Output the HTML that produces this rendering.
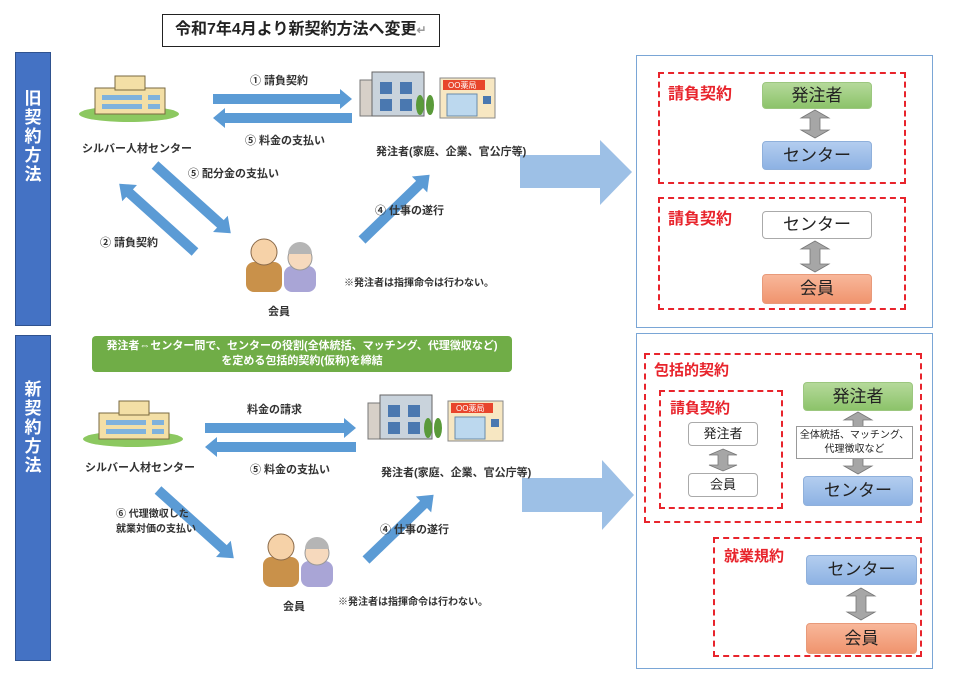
<!DOCTYPE html>
<html><head><meta charset="utf-8">
<style>
*{margin:0;padding:0;box-sizing:border-box}
body{width:960px;height:680px;background:#fff;position:relative;overflow:hidden;font-family:"Liberation Sans","Noto Sans CJK JP",sans-serif;color:#222}
.a{position:absolute;white-space:nowrap}
.t{font-size:11px;font-weight:bold;color:#333}
.bar{position:absolute;background:#4472c4;border:1px solid #2f528f;color:#fff;font-weight:bold;font-size:17px;line-height:19px;text-align:center;padding-top:36px}
.panel{position:absolute;border:1.5px solid #7aa6d6}
.red{position:absolute;border:2px dashed #e8242c}
.rl{position:absolute;color:#e8242c;font-weight:bold;font-size:16px;white-space:nowrap}
.box{position:absolute;border-radius:4px;text-align:center;font-size:17px;color:#222}
.g{background:linear-gradient(#b5d99a,#8cc36a);border:1px solid #9cc77f}
.b{background:linear-gradient(#b3cdef,#8db2e3);border:1px solid #8fb0db}
.o{background:linear-gradient(#f8b79a,#f0946e);border:1px solid #e89a7a}
.w{background:#fff;border:1px solid #aaa}
</style></head><body>
<div class="a" style="left:162px;top:14px;width:278px;height:33px;border:1.5px solid #222;font-size:16px;font-weight:bold;line-height:30px;padding-left:12px">令和7年4月より新契約方法へ変更<span style="color:#999;font-size:12px">↵</span></div>

<div class="bar" style="left:15px;top:52px;width:36px;height:274px">旧<br>契<br>約<br>方<br>法</div>
<div class="bar" style="left:15px;top:335px;width:36px;height:326px;padding-top:44px">新<br>契<br>約<br>方<br>法</div>

<svg class="a" style="left:0;top:0" width="960" height="680">
<g fill="#5b9bd5">
<polygon points="213,94 340,94 340,89 352,99 340,109 340,104 213,104"/>
<polygon points="352,113 225,113 225,108 213,118 225,128 225,123 352,123"/>
<polygon points="205,423 344,423 344,418 356,428 344,438 344,433 205,433"/>
<polygon points="356,442 217,442 217,437 205,447 217,457 217,452 356,452"/>
<g transform="translate(155,165) rotate(42)"><polygon points="0,-5 88,-5 88,-11 102,0 88,11 88,5 0,5"/></g>
<g transform="translate(195,252) rotate(-138)"><polygon points="0,-5 88,-5 88,-11 102,0 88,11 88,5 0,5"/></g>
<g transform="translate(362,240) rotate(-44)"><polygon points="0,-5 80,-5 80,-11 94,0 80,11 80,5 0,5"/></g>
<g transform="translate(158,490) rotate(42)"><polygon points="0,-5 88,-5 88,-11 102,0 88,11 88,5 0,5"/></g>
<g transform="translate(366,560) rotate(-44)"><polygon points="0,-5 80,-5 80,-11 94,0 80,11 80,5 0,5"/></g>
</g>
<g fill="#9dc0e6">
<polygon points="520,155 600,155 600,140 632,172 600,205 600,188 520,188"/>
<polygon points="522,478 602,478 602,460 634,495 602,530 602,512 522,512"/>
</g>
<g id="cen">
<ellipse cx="129" cy="114" rx="50" ry="8" fill="#8cc860"/>
<rect x="95" y="88" width="70" height="26" fill="#f3dfa6" stroke="#7a6a40"/>
<rect x="115" y="76" width="30" height="14" fill="#f3dfa6" stroke="#7a6a40"/>
<rect x="102" y="95" width="40" height="5" fill="#7fb2dd"/><rect x="102" y="104" width="40" height="5" fill="#7fb2dd"/>
<rect x="148" y="95" width="12" height="5" fill="#7fb2dd"/><rect x="148" y="104" width="12" height="5" fill="#7fb2dd"/>
</g>
<use href="#cen" x="4" y="325"/>
<g id="ord">
<rect x="360" y="80" width="14" height="36" fill="#d7d0c8" stroke="#777"/>
<rect x="372" y="72" width="52" height="44" fill="#c9d3dc" stroke="#666"/>
<rect x="380" y="82" width="12" height="12" fill="#4a78b0"/><rect x="400" y="82" width="12" height="12" fill="#4a78b0"/>
<rect x="380" y="99" width="12" height="12" fill="#4a78b0"/><rect x="400" y="99" width="12" height="12" fill="#4a78b0"/>
<ellipse cx="420" cy="105" rx="4" ry="10" fill="#5a9a3a"/><ellipse cx="430" cy="105" rx="4" ry="10" fill="#5a9a3a"/>
<rect x="440" y="78" width="55" height="40" fill="#f7e7c2" stroke="#888"/>
<rect x="443" y="80" width="42" height="10" fill="#e8452c"/>
<text x="448" y="88" font-size="8" fill="#fff">OO薬局</text>
<rect x="447" y="94" width="30" height="22" fill="#bcd8ee" stroke="#6a8bab"/>
<rect x="483" y="96" width="8" height="8" fill="#4a78b0"/>
</g>
<use href="#ord" x="8" y="323"/>
<g id="mem">
<rect x="246" y="262" width="36" height="30" rx="8" fill="#c9914a"/>
<circle cx="264" cy="252" r="13" fill="#f6d2a8" stroke="#8a6a4a"/>
<rect x="284" y="266" width="32" height="26" rx="8" fill="#a9a5d6"/>
<circle cx="300" cy="258" r="12" fill="#f6d9bd" stroke="#999"/>
<path d="M288,254 a12,12 0 0 1 24,0" fill="#b5b5b5"/>
</g>
<use href="#mem" x="17" y="295"/>
</svg>

<div class="a t" style="left:250px;top:72px">① 請負契約</div>
<div class="a t" style="left:245px;top:132px">⑤ 料金の支払い</div>
<div class="a t" style="left:82px;top:140px">シルバー人材センター</div>
<div class="a t" style="left:376px;top:143px">発注者(家庭、企業、官公庁等)</div>
<div class="a t" style="left:188px;top:165px">⑤ 配分金の支払い</div>
<div class="a t" style="left:100px;top:234px">② 請負契約</div>
<div class="a t" style="left:375px;top:202px">④ 仕事の遂行</div>
<div class="a t" style="left:344px;top:274px;font-size:10px">※発注者は指揮命令は行わない。</div>
<div class="a t" style="left:268px;top:303px">会員</div>

<div class="a" style="left:92px;top:336px;width:420px;height:36px;background:#70ad47;border-radius:4px;color:#fff;font-size:11px;font-weight:bold;text-align:center;line-height:15px;padding-top:3px">発注者⇔センター間で、センターの役割(全体統括、マッチング、代理徴収など)<br>を定める包括的契約(仮称)を締結</div>
<div class="a t" style="left:247px;top:401px">料金の請求</div>
<div class="a t" style="left:250px;top:461px">⑤ 料金の支払い</div>
<div class="a t" style="left:85px;top:459px">シルバー人材センター</div>
<div class="a t" style="left:381px;top:464px">発注者(家庭、企業、官公庁等)</div>
<div class="a t" style="left:116px;top:507px;line-height:15px;font-size:10px">⑥ 代理徴収した<br>就業対価の支払い</div>
<div class="a t" style="left:380px;top:521px">④ 仕事の遂行</div>
<div class="a t" style="left:338px;top:593px;font-size:10px">※発注者は指揮命令は行わない。</div>
<div class="a t" style="left:283px;top:598px">会員</div>

<div class="panel" style="left:636px;top:55px;width:297px;height:273px"></div>
<div class="red" style="left:658px;top:72px;width:248px;height:112px"></div>
<div class="rl" style="left:668px;top:80px">請負契約</div>
<div class="box g" style="left:762px;top:82px;width:110px;height:27px;line-height:25px">発注者</div>
<div class="box b" style="left:762px;top:141px;width:110px;height:29px;line-height:27px">センター</div>
<div class="red" style="left:658px;top:197px;width:248px;height:113px"></div>
<div class="rl" style="left:668px;top:205px">請負契約</div>
<div class="box w" style="left:762px;top:211px;width:110px;height:28px;line-height:26px">センター</div>
<div class="box o" style="left:762px;top:274px;width:110px;height:30px;line-height:28px">会員</div>

<div class="panel" style="left:636px;top:333px;width:297px;height:336px"></div>
<div class="red" style="left:644px;top:353px;width:278px;height:170px"></div>
<div class="rl" style="left:654px;top:359px;font-size:15px">包括的契約</div>
<div class="red" style="left:659px;top:390px;width:124px;height:119px"></div>
<div class="rl" style="left:670px;top:397px;font-size:15px">請負契約</div>
<div class="box w" style="left:688px;top:422px;width:70px;height:24px;line-height:22px;font-size:13px">発注者</div>
<div class="box w" style="left:688px;top:473px;width:70px;height:24px;line-height:22px;font-size:13px">会員</div>
<div class="box g" style="left:803px;top:382px;width:110px;height:29px;line-height:27px">発注者</div>
<div class="box b" style="left:803px;top:476px;width:110px;height:30px;line-height:28px">センター</div>
<div class="red" style="left:713px;top:537px;width:209px;height:120px"></div>
<div class="rl" style="left:724px;top:545px;font-size:15px">就業規約</div>
<div class="box b" style="left:806px;top:555px;width:111px;height:30px;line-height:28px">センター</div>
<div class="box o" style="left:806px;top:623px;width:111px;height:31px;line-height:29px">会員</div>

<svg class="a" style="left:0;top:0" width="960" height="680">
<g fill="#a6a6a6" stroke="#777" stroke-width="0.8">
<polygon points="815,110 829,118 820,118 820,130 829,130 815,138 801,130 810,130 810,118 801,118"/>
<polygon points="815,241 829,249 820,249 820,264 829,264 815,272 801,264 810,264 810,249 801,249"/>
<polygon points="723,449 737,455 728,455 728,465 737,465 723,471 709,465 718,465 718,455 709,455"/>
<polygon points="858,412 872,420 863,420 863,466 872,466 858,474 844,466 853,466 853,420 844,420"/>
<polygon points="861,588 875,596 866,596 866,612 875,612 861,620 847,612 856,612 856,596 847,596"/>
</g>
</svg>
<div class="a" style="left:796px;top:426px;width:117px;height:33px;background:#fff;border:1px solid #999;font-size:10px;text-align:center;line-height:14px;padding-top:2px">全体統括、マッチング、<br>代理徴収など</div>
</body></html>
